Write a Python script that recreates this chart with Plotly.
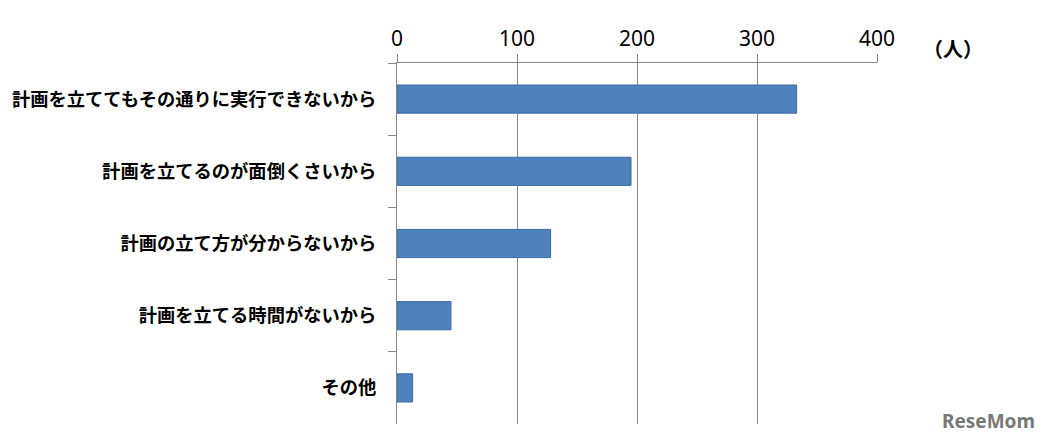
import plotly.graph_objects as go

categories = ["計画を立ててもその通りに実行できないから", "計画を立てるのが面倒くさいから",
              "計画の立て方が分からないから", "計画を立てる時間がないから", "その他"]
values = [333, 195, 128, 45, 13]
tick_vals = [0, 100, 200, 300, 400]
unit_label = "（人）"

# page body has an 8px margin; figure is sized to fit inside the window
OFF = 8
W, H = 1049 - OFF, 447 - OFF
L, T = 397 - OFF, 63 - OFF
R = W - (877 - OFF)
B = H - (424 - OFF)

fig = go.Figure(go.Bar(
    x=values, y=categories, orientation="h",
    marker=dict(color="#4F81BD", line=dict(color="#3C6A9E", width=1)),
    width=0.39,
))

fig.update_layout(
    width=W, height=H,
    margin=dict(l=L, r=R, t=T, b=B),
    paper_bgcolor="white", plot_bgcolor="white",
    showlegend=False,
    font=dict(family="Noto Sans CJK JP", color="black"),
    xaxis=dict(
        side="top", range=[0, 400], tickvals=tick_vals, automargin=False,
        showgrid=True, gridcolor="#878787", gridwidth=1,
        showline=True, linecolor="#878787", linewidth=1,
        ticks="outside", ticklen=8, tickcolor="#878787",
        tickfont=dict(family="Noto Sans, DejaVu Sans", size=21, color="black"),
        zeroline=False,
    ),
    yaxis=dict(
        autorange="reversed", showline=True, linecolor="#878787", linewidth=1,
        automargin=False,
        ticks="outside", ticklen=8, tickcolor="#878787", tickson="boundaries",
        tickfont=dict(family="Noto Sans CJK JP", size=18.3, color="black", weight="bold"),
        ticklabelstandoff=16, showgrid=False,
    ),
)

def paper(px, py):
    px -= OFF
    py -= OFF
    return (px - L) / (W - L - R), 1 - (py - T) / (H - T - B)

ux, uy = paper(953, 49)
rx, ry = paper(988, 421)
fig.add_annotation(text=unit_label, x=ux, y=uy, xref="paper", yref="paper", showarrow=False,
                   xanchor="center", yanchor="middle",
                   font=dict(family="Noto Sans CJK JP", size=20, color="black", weight="bold"))
fig.add_annotation(text="<b>ReseMom</b>", x=rx, y=ry, xref="paper", yref="paper", showarrow=False,
                   xanchor="center", yanchor="middle",
                   font=dict(family="Noto Sans", size=19, color="#777777"))

fig.write_html("out.html")
